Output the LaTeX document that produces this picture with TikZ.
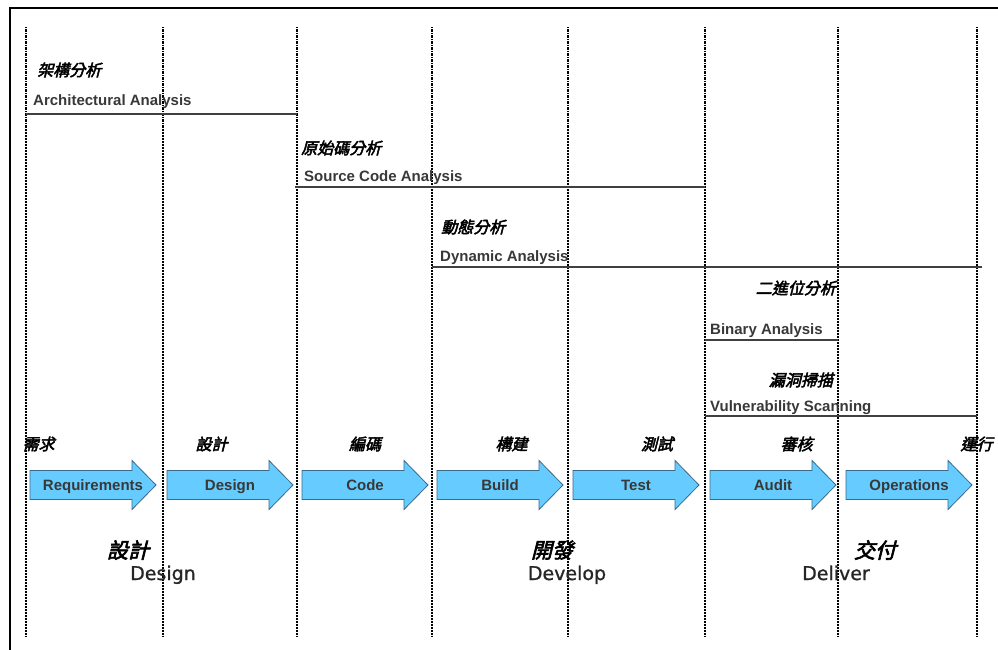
\documentclass[tikz,border=0pt]{standalone}
\usepackage{fontspec}
\setmainfont{Liberation Sans}
\newfontfamily\cjk[FakeSlant=0.25,FakeBold=3]{Noto Sans CJK TC}
\newfontfamily\phasefont[FakeBold=1]{DejaVu Sans}
\definecolor{arrowfill}{HTML}{66CCFF}
\definecolor{arrowedge}{HTML}{3A6A8A}
\begin{document}
\begin{tikzpicture}[x=1pt,y=-1pt,
  vline/.style={line width=1.4pt, dash pattern=on 1.5pt off 1pt on 2.5pt off 1pt},
  hline/.style={line width=1.8pt, draw=black!75},
  stagebox/.style={draw=arrowedge, fill=arrowfill, line width=0.8pt},
  cn/.style={font=\cjk\fontsize{16}{16}\selectfont, inner sep=0pt},
  en/.style={font=\bfseries\fontsize{15}{15}\selectfont, text=black!78, inner sep=0pt},
  phasecn/.style={font=\cjk\fontsize{21}{21}\selectfont, inner sep=0pt},
  phaseen/.style={font=\phasefont\fontsize{19}{19}\selectfont, text=black!85, inner sep=0pt, anchor=base},
  stagearrow/.pic={\path[stagebox] (0,-14.5) -- (102,-14.5) -- (102,-24.5) -- (126,0) -- (102,24.5) -- (102,14.5) -- (0,14.5) -- cycle;}
]
\useasboundingbox (0,0) rectangle (998,650);
% frame
\coordinate (fb) at (10,650);
\coordinate (fc) at (10,8);
\coordinate (fr) at (998,8);
\draw[line width=2pt] (fb) -- (fc) -- (fr);
% vertical dotted lines
\foreach \x [count=\i] in {26,163,297,432,568,705,838,977}{
  \coordinate (t\i) at (\x,27);
  \coordinate (b\i) at (\x,637);
  \draw[vline] (t\i) -- (b\i);
}
% analysis lines
\coordinate (a1) at (26,114);  \coordinate (a2) at (297,114);
\coordinate (s1) at (295,187); \coordinate (s2) at (705,187);
\coordinate (d1) at (432,267); \coordinate (d2) at (982,267);
\coordinate (bn1) at (705,340); \coordinate (bn2) at (838,340);
\coordinate (vs1) at (705,416); \coordinate (vs2) at (977,416);
\draw[hline] (a1) -- (a2);
\draw[hline] (s1) -- (s2);
\draw[hline] (d1) -- (d2);
\draw[hline] (bn1) -- (bn2);
\draw[hline] (vs1) -- (vs2);
% analysis labels
\node[cn, anchor=west] (archcn) at (37,70) {架構分析};
\node[en, anchor=base west] (archen) at (33,106) {Architectural Analysis};
\node[cn, anchor=west] (srccn) at (301,148) {原始碼分析};
\node[en, anchor=base west] (srcen) at (304,181) {Source Code Analysis};
\node[cn, anchor=west] (dyncn) at (441,227) {動態分析};
\node[en, anchor=base west] (dynen) at (440,261) {Dynamic Analysis};
\node[cn, anchor=east] (bincn) at (836,288) {二進位分析};
\node[en, anchor=base west] (binen) at (710,334) {Binary Analysis};
\node[cn, anchor=east] (vulcn) at (833,380) {漏洞掃描};
\node[en, anchor=base west] (vulen) at (710,411) {Vulnerability Scanning};
% stage arrows
\foreach \x/\name/\txt in {30/req/Requirements,167/des/Design,302/cod/Code,437/bld/Build,573/tst/Test,710/aud/Audit,846/ops/Operations}{
  \pic at (\x,485) {stagearrow};
  \node[en, anchor=base] (\name) at (\x+63,490.5) {\txt};
}
% stage chinese labels
\node[cn] (reqcn) at (38.5,444) {需求};
\node[cn] (descn) at (211.5,444) {設計};
\node[cn] (codcn) at (365,444) {編碼};
\node[cn] (bldcn) at (511.5,444) {構建};
\node[cn] (tstcn) at (657,444) {測試};
\node[cn] (audcn) at (796.5,444) {審核};
\node[cn] (opscn) at (976.5,444) {運行};
% phases
\node[phasecn] (p1cn) at (128,550) {設計};
\node[phaseen] (p1en) at (163,580) {Design};
\node[phasecn] (p2cn) at (552,550) {開發};
\node[phaseen] (p2en) at (567,580) {Develop};
\node[phasecn] (p3cn) at (875,550) {交付};
\node[phaseen] (p3en) at (836,580) {Deliver};
\end{tikzpicture}
\end{document}
